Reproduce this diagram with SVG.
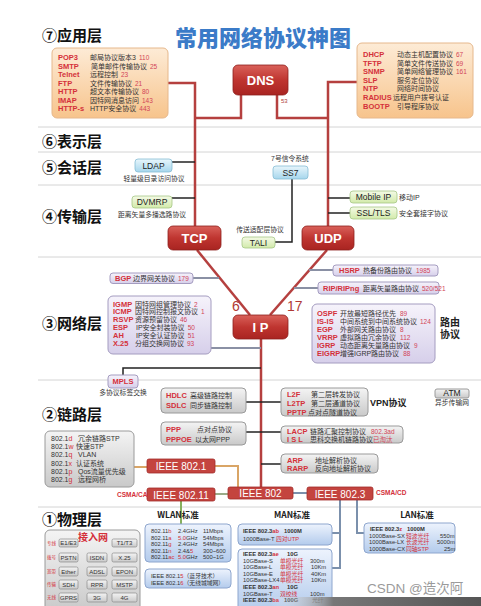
<svg xmlns="http://www.w3.org/2000/svg" width="481" height="606" viewBox="0 0 481 606">
<defs>
<linearGradient id="gOr" x1="0" y1="0" x2="0" y2="1"><stop offset="0" stop-color="#fdebd6"/><stop offset="1" stop-color="#f7c48c"/></linearGradient>
<linearGradient id="gRed" x1="0" y1="0" x2="0" y2="1"><stop offset="0" stop-color="#d9615a"/><stop offset="0.5" stop-color="#bf3530"/><stop offset="1" stop-color="#a92421"/></linearGradient>
<linearGradient id="gBl" x1="0" y1="0" x2="0" y2="1"><stop offset="0" stop-color="#e8f6fc"/><stop offset="1" stop-color="#a6d6ec"/></linearGradient>
<linearGradient id="gGr" x1="0" y1="0" x2="0" y2="1"><stop offset="0" stop-color="#f4fae6"/><stop offset="1" stop-color="#d2eaaa"/></linearGradient>
<linearGradient id="gLv" x1="0" y1="0" x2="0" y2="1"><stop offset="0" stop-color="#f6f3fb"/><stop offset="1" stop-color="#d6cfea"/></linearGradient>
<linearGradient id="gGy" x1="0" y1="0" x2="0" y2="1"><stop offset="0" stop-color="#f4f4f4"/><stop offset="1" stop-color="#c9c9c9"/></linearGradient>
<linearGradient id="gBb" x1="0" y1="0" x2="0" y2="1"><stop offset="0" stop-color="#edf3fd"/><stop offset="1" stop-color="#b3cbec"/></linearGradient>
<linearGradient id="gBand" x1="0" y1="0" x2="1" y2="0"><stop offset="0" stop-color="#ffffff" stop-opacity="0"/><stop offset="0.3" stop-color="#777"/><stop offset="1" stop-color="#555"/></linearGradient>
</defs>
<style>
text{font-family:"Liberation Sans","Noto Sans CJK SC",sans-serif}
.L{font-family:"Noto Sans CJK SC",sans-serif;font-weight:bold;font-size:15px;fill:#111}
.sep{stroke:#d4d4d4;stroke-width:1}
.red{fill:none;stroke:#b5403f;stroke-width:2.5}
.blk{fill:none;stroke:#222;stroke-width:1.5}
.gry{fill:none;stroke:#8a90a4;stroke-width:2}
.tan{fill:none;stroke:#d9a566;stroke-width:2}
.stl{fill:none;stroke:#7b90ac;stroke-width:2}
.rb{fill:url(#gRed);stroke:#8e1e1c;stroke-width:0.8}
.rt{fill:#fff;font-weight:bold;font-size:13px;text-anchor:middle}
.ie{fill:#c4443f;stroke:#a22b28;stroke-width:0.8}
.iet{fill:#fff;font-size:10px;text-anchor:middle}
.or{fill:url(#gOr);stroke:#e6b88c;stroke-width:1}
.bl{fill:url(#gBl);stroke:#86bcd4;stroke-width:0.8}
.gr{fill:url(#gGr);stroke:#a6c686;stroke-width:0.8}
.lv{fill:url(#gLv);stroke:#a49cc0;stroke-width:1}
.gy{fill:url(#gGy);stroke:#9a9a9a;stroke-width:1}
.bb{fill:url(#gBb);stroke:#8ea6ce;stroke-width:1}
.n{font-weight:bold;font-size:7.5px;fill:#d4303a}
.d{font-size:7px;fill:#333}
.u{font-size:6.5px;fill:#d24458}
.bt{font-size:8.5px;fill:#222;text-anchor:middle}
.s{font-size:6.8px;fill:#333;text-anchor:middle}
.w{font-size:5.8px;fill:#333}
.wr{fill:#d4303a}
.wb{font-weight:bold}
.lab{font-family:"Noto Sans CJK SC",sans-serif;font-weight:bold;font-size:8.5px;fill:#222;text-anchor:middle}
.btn{fill:url(#gGy);stroke:#8a8a8a;stroke-width:0.7}
.bx{font-size:6px;fill:#333;text-anchor:middle}
.rl{font-size:4.5px;fill:#d4303a}
</style>
<rect width="481" height="606" fill="#fff"/>

<g id="title"><text x="263" y="46" text-anchor="middle" font-family="Noto Sans CJK SC, sans-serif" font-weight="900" font-size="22" fill="#3b7bc8">常用网络协议神图</text></g>

<g id="layers">
<line class="sep" x1="38" y1="127" x2="481" y2="127"/>
<line class="sep" x1="38" y1="152" x2="481" y2="152"/>
<line class="sep" x1="38" y1="185" x2="481" y2="185"/>
<line class="sep" x1="38" y1="257" x2="481" y2="257"/>
<line class="sep" x1="38" y1="380" x2="481" y2="380"/>
<line class="sep" x1="38" y1="507" x2="481" y2="507"/>
<text class="L" x="42" y="41">⑦应用层</text>
<text class="L" x="42" y="147">⑥表示层</text>
<text class="L" x="42" y="173">⑤会话层</text>
<text class="L" x="42" y="222">④传输层</text>
<text class="L" x="42" y="329">③网络层</text>
<text class="L" x="42" y="420">②链路层</text>
<text class="L" x="42" y="525">①物理层</text>
</g>

<g id="connectors">
<path class="red" d="M168,83 H195 V226"/>
<path class="red" d="M241,95 V118 H195"/>
<path class="red" d="M277,95 V118 H328"/>
<path class="red" d="M357,82 H328 V226"/>
<path class="red" d="M197,250 L250,315"/>
<path class="red" d="M327,250 L270,315"/>
<path class="red" d="M261,339 V487"/>
<path class="blk" d="M172,162 H195"/>
<path class="blk" d="M172,198 H195"/>
<path class="blk" d="M292,179 V242 H275"/>
<path class="blk" d="M328,198 H350"/>
<path class="blk" d="M328,213 H350"/>
<path class="blk" d="M261,368 H123 V375"/>
<path class="blk" d="M246,402 H261"/>
<path class="blk" d="M246,432 H261"/>
<path class="blk" d="M261,402 H281"/>
<path class="blk" d="M261,432 H281"/>
<path class="blk" d="M261,464 H281"/>
<path class="gry" d="M193,278 H219"/>
<path class="gry" d="M211,348 H261"/>
<path class="gry" d="M309,270 H333"/>
<path class="gry" d="M294,288 H318"/>
<path class="tan" d="M134,467 H147"/>
<path class="tan" d="M215,466 H238 V487"/>
<path fill="none" stroke="#9aab88" stroke-width="2" d="M215,494 H228"/>
<path class="stl" d="M293,493 H307"/>
<path fill="none" stroke="#86b05e" stroke-width="2" d="M181,501 V524"/>
<path class="stl" d="M340,500 V568 H332"/>
<path class="stl" d="M340,533 H332"/>
<path class="stl" d="M357,500 V533 H364"/>
<text x="281" y="103" font-size="6" fill="#b03a3a">53</text>
<text x="232" y="311" font-size="14" fill="#b03a34">6</text>
<text x="287" y="311" font-size="14" fill="#b03a34">17</text>
</g>

<g id="app-left">
<rect class="or" x="52" y="48" width="116" height="70" rx="5"/>
<text class="d" y="60"><tspan class="n" x="58">POP3</tspan><tspan x="90">邮局协议版本3</tspan><tspan class="u" dx="3">110</tspan></text>
<text class="d" y="68.5"><tspan class="n" x="58">SMTP</tspan><tspan x="91">简单邮件传输协议</tspan><tspan class="u" dx="3">25</tspan></text>
<text class="d" y="77"><tspan class="n" x="58">Telnet</tspan><tspan x="90">远程控制</tspan><tspan class="u" dx="3">23</tspan></text>
<text class="d" y="85.5"><tspan class="n" x="58">FTP</tspan><tspan x="90">文件传输协议</tspan><tspan class="u" dx="3">21</tspan></text>
<text class="d" y="94"><tspan class="n" x="58">HTTP</tspan><tspan x="90">超文本传输协议</tspan><tspan class="u" dx="3">80</tspan></text>
<text class="d" y="102.5"><tspan class="n" x="58">IMAP</tspan><tspan x="90">因特网消息访问</tspan><tspan class="u" dx="3">143</tspan></text>
<text class="d" y="111"><tspan class="n" x="58">HTTP-s</tspan><tspan x="90">HTTP安全协议</tspan><tspan class="u" dx="3">443</tspan></text>
</g>

<g id="app-right">
<rect class="or" x="357" y="43" width="116" height="75" rx="5"/>
<text class="d" y="57"><tspan class="n" x="363">DHCP</tspan><tspan x="397">动态主机配置协议</tspan><tspan class="u" dx="3">67</tspan></text>
<text class="d" y="65.5"><tspan class="n" x="363">TFTP</tspan><tspan x="397">简单文件传送协议</tspan><tspan class="u" dx="3">69</tspan></text>
<text class="d" y="74"><tspan class="n" x="363">SNMP</tspan><tspan x="397">简单网络管理协议</tspan><tspan class="u" dx="3">161</tspan></text>
<text class="d" y="82.5"><tspan class="n" x="363">SLP</tspan><tspan x="397">服务定位协议</tspan></text>
<text class="d" y="91"><tspan class="n" x="363">NTP</tspan><tspan x="397">网络时间协议</tspan></text>
<text class="d" y="100"><tspan class="n" x="363">RADIUS</tspan><tspan x="393">远程用户拨号认证</tspan></text>
<text class="d" y="108.5"><tspan class="n" x="363">BOOTP</tspan><tspan x="397">引导程序协议</tspan></text>
</g>

<g id="dns"><rect class="rb" x="233" y="65" width="55" height="30" rx="5"/><text class="rt" x="260.5" y="85" font-weight="normal" font-size="12">DNS</text></g>
<g id="tcp"><rect class="rb" x="168" y="226" width="53" height="24" rx="5"/><text class="rt" x="194.5" y="243">TCP</text></g>
<g id="udp"><rect class="rb" x="302" y="226" width="52" height="24" rx="5"/><text class="rt" x="328" y="243">UDP</text></g>
<g id="ip"><rect class="rb" x="233" y="315" width="55" height="24" rx="5"/><text class="rt" x="260.5" y="332">I P</text></g>

<g id="ldap"><rect class="bl" x="135" y="159" width="37" height="13" rx="3"/><text class="bt" x="153.5" y="168.5">LDAP</text><text class="s" x="154" y="180.5">轻量级目录访问协议</text></g>
<g id="dvmrp"><rect class="gr" x="132" y="196" width="40" height="12" rx="3"/><text class="bt" x="152" y="205">DVMRP</text><text class="s" x="152" y="217">距离矢量多播选路协议</text></g>
<g id="ss7"><text class="s" x="290" y="161" font-size="6">7号信令系统</text><rect class="bl" x="273" y="166" width="35" height="13" rx="3"/><text class="bt" x="290.5" y="175.5">SS7</text></g>
<g id="tali"><text class="s" x="260" y="231.5" font-size="7">传送适配层协议</text><rect class="gr" x="242" y="237" width="33" height="11" rx="3"/><text class="bt" x="258.5" y="245.5" font-size="8">TALI</text></g>
<g id="mobileip"><rect class="gr" x="350" y="191" width="47" height="12" rx="3"/><text class="bt" x="373.5" y="200">Mobile IP</text><text class="d" x="399" y="200">移动IP</text></g>
<g id="ssltls"><rect class="gr" x="350" y="207" width="47" height="12" rx="3"/><text class="bt" x="373.5" y="216">SSL/TLS</text><text class="d" x="399" y="216">安全套接字协议</text></g>

<g id="bgp"><rect class="lv" x="110" y="273" width="83" height="10.5" rx="3"/><text class="d" y="281"><tspan class="n" x="115">BGP</tspan><tspan x="133">边界网关协议</tspan><tspan class="u" dx="3">179</tspan></text></g>
<g id="hsrp"><rect class="lv" x="333" y="265" width="105" height="11" rx="3"/><text class="d" y="273"><tspan class="n" x="339">HSRP</tspan><tspan x="363">热备份路由协议</tspan><tspan class="u" dx="4" font-size="7">1985</tspan></text></g>
<g id="rip"><rect class="lv" x="318" y="282" width="121" height="12" rx="3"/><text class="d" y="291"><tspan class="n" x="323">RIP/RIPng</tspan><tspan x="363">距离矢量路由协议</tspan><tspan class="u" dx="3" font-size="5.5">520/521</tspan></text></g>

<g id="net-left">
<rect class="lv" x="108" y="296" width="103" height="58" rx="5"/>
<text class="d" y="306.5" font-size="6.8"><tspan class="n" x="113">IGMP</tspan><tspan x="135">因特网组管理协议</tspan><tspan class="u" dx="3">2</tspan></text>
<text class="d" y="314.3" font-size="6.8"><tspan class="n" x="113">ICMP</tspan><tspan x="135">因特网控制报文协议</tspan><tspan class="u" dx="3">1</tspan></text>
<text class="d" y="322.1" font-size="6.8"><tspan class="n" x="113">RSVP</tspan><tspan x="135">资源预留协议</tspan><tspan class="u" dx="3">46</tspan></text>
<text class="d" y="329.9" font-size="6.8"><tspan class="n" x="113">ESP</tspan><tspan x="136">IP安全封装协议</tspan><tspan class="u" dx="3">50</tspan></text>
<text class="d" y="337.7" font-size="6.8"><tspan class="n" x="113">AH</tspan><tspan x="136">IP安全认证协议</tspan><tspan class="u" dx="3">51</tspan></text>
<text class="d" y="345.5" font-size="6.8"><tspan class="n" x="113">X.25</tspan><tspan x="135">分组交换网协议</tspan><tspan class="u" dx="3">93</tspan></text>
</g>

<g id="net-right">
<rect class="lv" x="312" y="304" width="123" height="59" rx="5"/>
<text class="d" y="316" font-size="6.8"><tspan class="n" x="317">OSPF</tspan><tspan x="340">开放最短路径优先</tspan><tspan class="u" dx="4" font-size="7">89</tspan></text>
<text class="d" y="324" font-size="6.8"><tspan class="n" x="317">IS-IS</tspan><tspan x="340">中间系统到中间系统协议</tspan><tspan class="u" dx="3" font-size="7">124</tspan></text>
<text class="d" y="332" font-size="6.8"><tspan class="n" x="317">EGP</tspan><tspan x="340">外部网关路由协议</tspan><tspan class="u" dx="4" font-size="7">8</tspan></text>
<text class="d" y="340" font-size="6.8"><tspan class="n" x="317">VRRP</tspan><tspan x="340">虚拟路由冗余协议</tspan><tspan class="u" dx="4" font-size="7">112</tspan></text>
<text class="d" y="348" font-size="6.8"><tspan class="n" x="317">IGRP</tspan><tspan x="340">动态距离矢量路由协议</tspan><tspan class="u" dx="4" font-size="7">9</tspan></text>
<text class="d" y="356" font-size="6.8"><tspan class="n" x="317">EIGRP</tspan><tspan x="340">增强IGRP路由协议</tspan><tspan class="u" dx="4" font-size="7">88</tspan></text>
<text x="440" y="326" font-family="Noto Sans CJK SC, sans-serif" font-weight="bold" font-size="10" fill="#222">路由</text>
<text x="440" y="338" font-family="Noto Sans CJK SC, sans-serif" font-weight="bold" font-size="10" fill="#222">协议</text>
</g>

<g id="mpls"><rect class="lv" x="108" y="375" width="30" height="13" rx="3"/><text class="n" x="123" y="384" text-anchor="middle">MPLS</text><text class="s" x="123" y="395" font-size="5.5">多协议标签交换</text></g>

<g id="hdlc"><rect class="gy" x="161" y="388" width="85" height="25" rx="4"/>
<text class="d" y="398"><tspan class="n" x="166">HDLC</tspan><tspan x="190">高级链路控制</tspan></text>
<text class="d" y="408"><tspan class="n" x="166">SDLC</tspan><tspan x="190">同步链路控制</tspan></text></g>
<g id="ppp"><rect class="gy" x="161" y="422" width="85" height="23" rx="4"/>
<text class="d" y="432"><tspan class="n" x="166">PPP</tspan><tspan x="197">点对点协议</tspan></text>
<text class="d" y="442"><tspan class="n" x="166">PPPOE</tspan><tspan x="195">以太网PPP</tspan></text></g>
<g id="vpn"><rect class="gy" x="281" y="388" width="87" height="28" rx="4"/>
<text class="d" y="397"><tspan class="n" x="287">L2F</tspan><tspan x="311">第二层转发协议</tspan></text>
<text class="d" y="405.5"><tspan class="n" x="287">L2TP</tspan><tspan x="311">第二层通道协议</tspan></text>
<text class="d" y="414.5"><tspan class="n" x="287">PPTP</tspan><tspan x="308">点对点隧道协议</tspan></text>
<text x="370" y="406" font-family="Noto Sans CJK SC, sans-serif" font-weight="bold" font-size="9" fill="#222">VPN协议</text></g>
<g id="atm"><rect class="gy" x="435" y="389" width="34" height="9" rx="2"/><text class="bt" x="452" y="396" font-size="7.5">ATM</text><text class="s" x="452" y="405" font-size="5">异步传输网</text></g>
<g id="lacp"><rect class="gy" x="281" y="426" width="122" height="17" rx="4"/>
<text class="d" y="433.5"><tspan class="n" x="287">LACP</tspan><tspan x="310">链路汇聚控制协议</tspan><tspan class="u" x="371" font-size="7">802.3ad</tspan></text>
<text class="d" y="442"><tspan class="n" x="287">I S L</tspan><tspan x="310">思科交换机链路协议</tspan><tspan class="u" x="373" font-size="7">已淘汰</tspan></text></g>
<g id="arp"><rect class="gy" x="281" y="454" width="97" height="19" rx="4"/>
<text class="d" y="462.5"><tspan class="n" x="287">ARP</tspan><tspan x="315">地址解析协议</tspan></text>
<text class="d" y="471"><tspan class="n" x="287">RARP</tspan><tspan x="315">反向地址解析协议</tspan></text></g>

<g id="link-left"><rect class="gy" x="45" y="431" width="89" height="56" rx="5"/>
<text class="d" y="440.5" font-size="7.2"><tspan x="51">802.1</tspan><tspan class="wr">d</tspan><tspan x="78">冗余链路STP</tspan></text>
<text class="d" y="449" font-size="7.2"><tspan x="51">802.1</tspan><tspan class="wr">w</tspan><tspan x="76">快速STP</tspan></text>
<text class="d" y="457" font-size="7.2"><tspan x="51">802.1</tspan><tspan class="wr">q</tspan><tspan x="78">VLAN</tspan></text>
<text class="d" y="465.5" font-size="7.2"><tspan x="51">802.1</tspan><tspan class="wr">x</tspan><tspan x="76">认证系统</tspan></text>
<text class="d" y="473.5" font-size="7.2"><tspan x="51">802.1</tspan><tspan class="wr">p</tspan><tspan x="78">Qos流量优先级</tspan></text>
<text class="d" y="481.5" font-size="7.2"><tspan x="51">802.1</tspan><tspan class="wr">g</tspan><tspan x="78">远程网桥</tspan></text></g>

<g id="ieee8021"><rect class="ie" x="147" y="459" width="68" height="14" rx="2"/><text class="iet" x="181" y="470">IEEE 802.1</text></g>
<g id="ieee80211"><rect class="ie" x="147" y="488" width="68" height="13" rx="2"/><text class="iet" x="181" y="498.5">IEEE 802.11</text><text x="117" y="497" font-size="6.5" font-weight="bold" fill="#d4303a">CSMA/CA</text></g>
<g id="ieee802"><rect class="ie" x="228" y="487" width="65" height="12" rx="2"/><text class="iet" x="260.5" y="497">IEEE 802</text></g>
<g id="ieee8023"><rect class="ie" x="307" y="487" width="66" height="13" rx="2"/><text class="iet" x="340" y="497.5">IEEE 802.3</text><text x="376" y="495" font-size="6.5" font-weight="bold" fill="#d4303a">CSMA/CD</text></g>

<g id="wlan">
<text class="lab" x="178" y="518">WLAN标准</text>
<rect class="bb" x="145" y="524" width="86" height="38" rx="4"/>
<text class="w" y="533"><tspan x="151">802.11</tspan><tspan class="wr">b</tspan><tspan x="178">2.4GHz</tspan><tspan x="203">11Mbps</tspan></text>
<text class="w" y="539.5"><tspan x="151">802.11</tspan><tspan class="wr">a</tspan><tspan x="178" class="wr">5.0</tspan><tspan>GHz</tspan><tspan x="203">54Mbps</tspan></text>
<text class="w" y="546"><tspan x="151">802.11</tspan><tspan class="wr">g</tspan><tspan x="178">2.4GHz</tspan><tspan x="203">54Mbps</tspan></text>
<text class="w" y="552.5"><tspan x="151">802.11</tspan><tspan class="wr">n</tspan><tspan x="178">2.4&amp;</tspan><tspan class="wr">5</tspan><tspan x="203">300~600</tspan></text>
<text class="w" y="559"><tspan x="151">802.11</tspan><tspan class="wr">ac</tspan><tspan x="178" class="wr">5.0</tspan><tspan>GHz</tspan><tspan x="203">500~1G</tspan></text>
<rect class="bb" x="145" y="569" width="86" height="19" rx="4"/>
<text class="w" x="151" y="577.5">IEEE 802.1<tspan class="wr">5</tspan>（蓝牙技术）</text>
<text class="w" x="151" y="584.5">IEEE 802.1<tspan class="wr">6</tspan>（无线城域网）</text>
</g>

<g id="man">
<text class="lab" x="292" y="518">MAN标准</text>
<rect class="bb" x="238" y="524" width="94" height="21" rx="4"/>
<text class="w" y="533"><tspan x="243" class="wb">IEEE 802.3</tspan><tspan class="wr wb">ab</tspan><tspan x="284" class="wb">1000M</tspan></text>
<text class="w" y="541"><tspan x="243">1000Base-T</tspan><tspan x="276" class="wr">四对UTP</tspan></text>
<rect class="bb" x="238" y="549" width="94" height="62" rx="4"/>
<text class="w" y="556"><tspan x="243" class="wb">IEEE 802.3</tspan><tspan class="wr wb">ae</tspan><tspan x="287" class="wb">10G</tspan></text>
<text class="w" y="562.6"><tspan x="243">10GBase-S</tspan><tspan x="280" class="wr">单模光纤</tspan><tspan x="310">300m</tspan></text>
<text class="w" y="569.2"><tspan x="243">10GBase-L</tspan><tspan x="280" class="wr">单模光纤</tspan><tspan x="311">10Km</tspan></text>
<text class="w" y="575.8"><tspan x="243">10GBase-E</tspan><tspan x="280" class="wr">单模光纤</tspan><tspan x="311">40Km</tspan></text>
<text class="w" y="582.4"><tspan x="243">10GBase-LX4</tspan><tspan x="280" class="wr">单模光纤</tspan><tspan x="311">10Km</tspan></text>
<text class="w" y="589"><tspan x="243" class="wb">IEEE 802.3</tspan><tspan class="wr wb">an</tspan><tspan x="287" class="wb">10G</tspan></text>
<text class="w" y="595.6"><tspan x="243">10GBase-T</tspan><tspan x="280" class="wr">双绞线</tspan><tspan x="310">100m</tspan></text>
<text class="w" y="602.2"><tspan x="243" class="wb">IEEE 802.3</tspan><tspan class="wr wb">ba</tspan><tspan x="284" class="wb">100G</tspan><tspan x="312">光纤</tspan></text>
</g>

<g id="lan">
<text class="lab" x="417" y="518">LAN标准</text>
<rect class="bb" x="364" y="523" width="91" height="30" rx="4"/>
<text class="w" y="531"><tspan x="370" class="wb">IEEE 802.3</tspan><tspan class="wr wb">z</tspan><tspan x="407" class="wb">1000M</tspan></text>
<text class="w" y="537.7"><tspan x="369">1000Base-SX</tspan><tspan x="406" class="wr">短波光纤</tspan><tspan x="440">550m</tspan></text>
<text class="w" y="544.2"><tspan x="369">1000Base-LX</tspan><tspan x="406" class="wr">长波光纤</tspan><tspan x="437">5000m</tspan></text>
<text class="w" y="550.7"><tspan x="369">1000Base-CX</tspan><tspan x="406" class="wr">同轴STP</tspan><tspan x="444">25m</tspan></text>
</g>

<g id="access">
<rect class="gy" x="45" y="530" width="95" height="82" rx="5"/>
<text x="93" y="541" text-anchor="middle" font-family="Noto Sans CJK SC, sans-serif" font-weight="bold" font-size="10" fill="#d4303a">接入网</text>
<text class="rl" x="47" y="545">专线</text>
<rect class="btn" x="59" y="539" width="19" height="8" rx="1.5"/><text class="bx" x="68.5" y="545.2">E1/E3</text>
<rect class="btn" x="112" y="539" width="25" height="8" rx="1.5"/><text class="bx" x="124.5" y="545.2">T1/T3</text>
<text class="rl" x="47" y="559">拨号</text>
<rect class="btn" x="59" y="553" width="19" height="9" rx="1.5"/><text class="bx" x="68.5" y="559.7">PSTN</text>
<rect class="btn" x="87" y="553" width="20" height="9" rx="1.5"/><text class="bx" x="97" y="559.7">ISDN</text>
<rect class="btn" x="112" y="553" width="25" height="9" rx="1.5"/><text class="bx" x="124.5" y="559.7">X.25</text>
<text class="rl" x="47" y="573">宽带</text>
<rect class="btn" x="59" y="567" width="19" height="9" rx="1.5"/><text class="bx" x="68.5" y="573.7">Ether</text>
<rect class="btn" x="87" y="567" width="20" height="9" rx="1.5"/><text class="bx" x="97" y="573.7">ADSL</text>
<rect class="btn" x="112" y="567" width="25" height="9" rx="1.5"/><text class="bx" x="124.5" y="573.7">EPON</text>
<text class="rl" x="47" y="586">传输</text>
<rect class="btn" x="59" y="580" width="19" height="9" rx="1.5"/><text class="bx" x="68.5" y="586.7">SDH</text>
<rect class="btn" x="87" y="580" width="20" height="9" rx="1.5"/><text class="bx" x="97" y="586.7">RPR</text>
<rect class="btn" x="112" y="580" width="25" height="9" rx="1.5"/><text class="bx" x="124.5" y="586.7">MSTP</text>
<text class="rl" x="47" y="599">无线</text>
<rect class="btn" x="59" y="593" width="19" height="9" rx="1.5"/><text class="bx" x="68.5" y="599.7">GPRS</text>
<rect class="btn" x="87" y="593" width="20" height="9" rx="1.5"/><text class="bx" x="97" y="599.7">3G</text>
<rect class="btn" x="112" y="593" width="25" height="9" rx="1.5"/><text class="bx" x="124.5" y="599.7">4G</text>
</g>

<rect x="270" y="597" width="211" height="9" fill="url(#gBand)"/>
<text x="367" y="593" font-family="Liberation Sans, Noto Sans CJK SC, sans-serif" font-size="13.5" fill="#9a9a9a">CSDN @造次阿</text>
</svg>
